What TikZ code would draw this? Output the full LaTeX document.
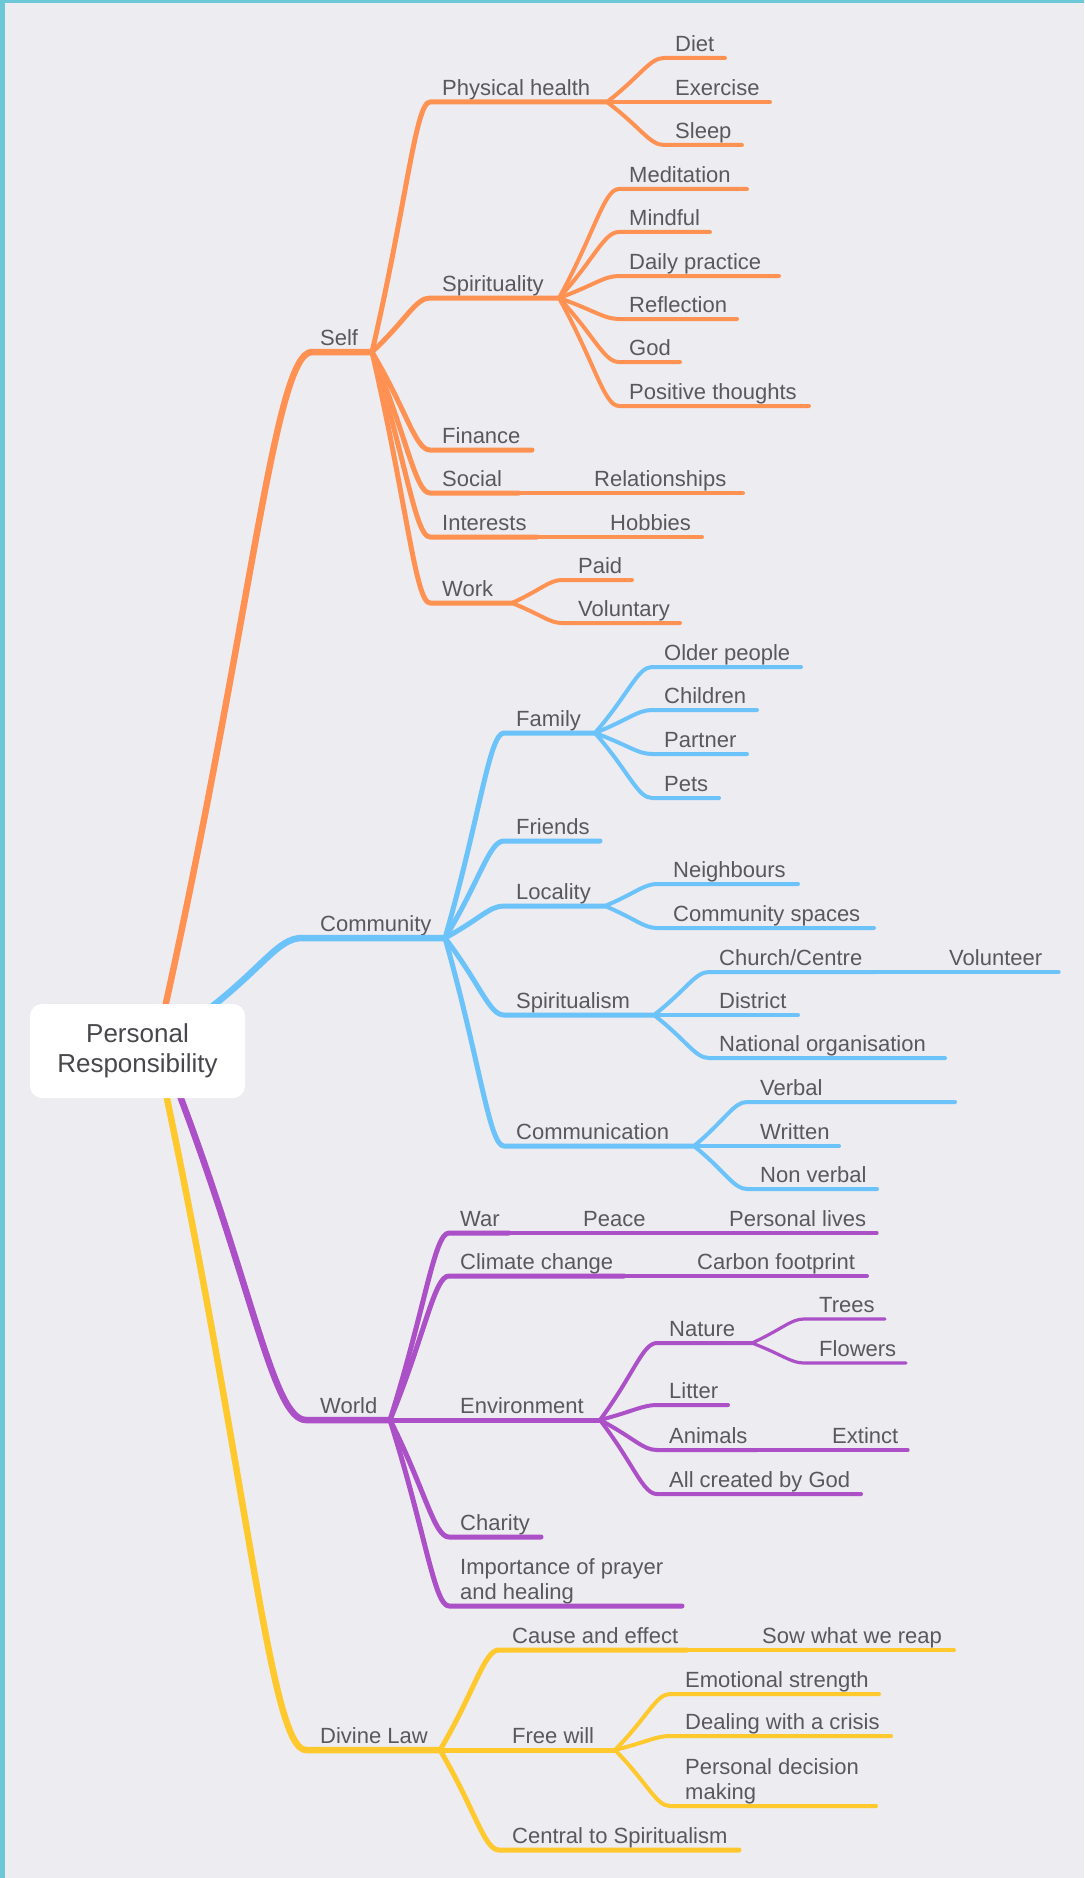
\documentclass[tikz,border=0pt]{standalone}
\usepackage{fontspec}
\setmainfont{Liberation Sans}
\usetikzlibrary{calc}
\definecolor{bgc}{RGB}{236,236,241}
\definecolor{frm}{RGB}{108,200,215}
\definecolor{txt}{RGB}{88,88,94}
\definecolor{roottxt}{RGB}{72,72,76}
\definecolor{orng}{RGB}{255,146,82}
\definecolor{blu}{RGB}{108,195,250}
\definecolor{prp}{RGB}{172,80,200}
\definecolor{ylw}{RGB}{255,200,45}
\newcommand\mmitem[6]{%
  \coordinate (#1-s) at (#2,#3);
  \coordinate (#1-e) at (#5,#3);
  \node[lbl] (#1) at (#4,#3-6.5) {#6};}
\tikzset{
  lbl/.style={anchor=base west, inner sep=0pt, text=txt, font=\fontsize{22}{25}\selectfont},
  rootbox/.style={fill=white, rounded corners=12pt, minimum width=215pt, minimum height=94pt,
    align=center, inner sep=0pt, text=roottxt, font=\fontsize{26}{30}\selectfont},
  curvy/.style={to path={let \p1=(\tikztostart), \p2=(\tikztotarget) in
    .. controls ({\x1+0.6*(\x2-\x1)},{\y1+0.6*(\y2-\y1)}) and ({\x2-0.25*(\x2-\x1)},{\y2}) .. (\tikztotarget)}},
  wA/.style={line width=6.5pt},
  wB/.style={line width=5pt},
  wC/.style={line width=4pt},
  wD/.style={line width=3.2pt},
}
\begin{document}
\begin{tikzpicture}[x=1pt,y=-1pt,line cap=round,line join=round]
\useasboundingbox (0,0) rectangle (1084,1878);
\fill[bgc] (0,0) rectangle (1084,1878);
\fill[frm] (0,0) rectangle (5,1878);
\fill[frm] (0,0) rectangle (1084,3);

% start points of the main branches (inside the central topic)
\coordinate (rs) at (160,1030);
\coordinate (rc) at (205,1012);
\coordinate (rw) at (172,1075);
\coordinate (rd) at (162,1075);

% ---------- Self ----------
\mmitem{self}{312}{352}{320}{372}{Self}
\mmitem{phys}{430}{102}{442}{607}{Physical health}
\mmitem{diet}{664}{58}{675}{725}{Diet}
\mmitem{exer}{607}{102}{675}{770}{Exercise}
\mmitem{sleep}{664}{145}{675}{742}{Sleep}
\mmitem{spir}{430}{298}{442}{559}{Spirituality}
\mmitem{medi}{619}{189}{629}{747}{Meditation}
\mmitem{mind}{619}{232}{629}{710}{Mindful}
\mmitem{daily}{619}{276}{629}{779}{Daily practice}
\mmitem{refl}{619}{319}{629}{737}{Reflection}
\mmitem{god}{619}{362}{629}{680}{God}
\mmitem{posi}{619}{406}{629}{809}{Positive thoughts}
\mmitem{fin}{430}{450}{442}{532}{Finance}
\mmitem{soc}{430}{493}{442}{519}{Social}
\mmitem{rel}{519}{493}{594}{743}{Relationships}
\mmitem{inte}{430}{537}{442}{537}{Interests}
\mmitem{hob}{537}{537}{610}{702}{Hobbies}
\mmitem{work}{430}{603}{442}{512}{Work}
\mmitem{paid}{562}{580}{578}{632}{Paid}
\mmitem{volu}{562}{623}{578}{680}{Voluntary}

\begin{scope}[color=orng]
\draw[wA] (rs) to[curvy] (self-s) -- (self-e);
\draw[wB] (self-e) to[curvy] (phys-s) -- (phys-e);
\draw[wB] (self-e) to[curvy] (spir-s) -- (spir-e);
\draw[wB] (self-e) to[curvy] (fin-s) -- (fin-e);
\draw[wB] (self-e) to[curvy] (soc-s) -- (soc-e);
\draw[wB] (self-e) to[curvy] (inte-s) -- (inte-e);
\draw[wB] (self-e) to[curvy] (work-s) -- (work-e);
\draw[wC] (phys-e) to[curvy] (diet-s) -- (diet-e);
\draw[wC] (exer-s) -- (exer-e);
\draw[wC] (phys-e) to[curvy] (sleep-s) -- (sleep-e);
\draw[wC] (spir-e) to[curvy] (medi-s) -- (medi-e);
\draw[wC] (spir-e) to[curvy] (mind-s) -- (mind-e);
\draw[wC] (spir-e) to[curvy] (daily-s) -- (daily-e);
\draw[wC] (spir-e) to[curvy] (refl-s) -- (refl-e);
\draw[wC] (spir-e) to[curvy] (god-s) -- (god-e);
\draw[wC] (spir-e) to[curvy] (posi-s) -- (posi-e);
\draw[wC] (rel-s) -- (rel-e);
\draw[wC] (hob-s) -- (hob-e);
\draw[wC] (work-e) to[curvy] (paid-s) -- (paid-e);
\draw[wC] (work-e) to[curvy] (volu-s) -- (volu-e);
\end{scope}

% ---------- Community ----------
\mmitem{comm}{302}{938}{320}{445}{Community}
\mmitem{fam}{504}{733}{516}{595}{Family}
\mmitem{old}{652}{667}{664}{801}{Older people}
\mmitem{chil}{652}{710}{664}{757}{Children}
\mmitem{part}{652}{754}{664}{747}{Partner}
\mmitem{pets}{652}{798}{664}{719}{Pets}
\mmitem{frie}{504}{841}{516}{600}{Friends}
\mmitem{loca}{504}{906}{516}{605}{Locality}
\mmitem{neig}{657}{884}{673}{798}{Neighbours}
\mmitem{cosp}{657}{928}{673}{874}{Community spaces}
\mmitem{spis}{504}{1015}{516}{654}{Spiritualism}
\mmitem{chur}{709}{972}{719}{875}{Church/Centre}
\mmitem{volt}{875}{972}{949}{1059}{Volunteer}
\mmitem{dist}{654}{1015}{719}{798}{District}
\mmitem{nati}{709}{1058}{719}{945}{National organisation}
\mmitem{comu}{504}{1146}{516}{694}{Communication}
\mmitem{verb}{747}{1102}{760}{955}{Verbal}
\mmitem{writ}{694}{1146}{760}{839}{Written}
\mmitem{nonv}{747}{1189}{760}{877}{Non verbal}

\begin{scope}[color=blu]
\draw[wA] (rc) to[curvy] (comm-s) -- (comm-e);
\draw[wB] (comm-e) to[curvy] (fam-s) -- (fam-e);
\draw[wB] (comm-e) to[curvy] (frie-s) -- (frie-e);
\draw[wB] (comm-e) to[curvy] (loca-s) -- (loca-e);
\draw[wB] (comm-e) to[curvy] (spis-s) -- (spis-e);
\draw[wB] (comm-e) to[curvy] (comu-s) -- (comu-e);
\draw[wC] (fam-e) to[curvy] (old-s) -- (old-e);
\draw[wC] (fam-e) to[curvy] (chil-s) -- (chil-e);
\draw[wC] (fam-e) to[curvy] (part-s) -- (part-e);
\draw[wC] (fam-e) to[curvy] (pets-s) -- (pets-e);
\draw[wC] (loca-e) to[curvy] (neig-s) -- (neig-e);
\draw[wC] (loca-e) to[curvy] (cosp-s) -- (cosp-e);
\draw[wC] (spis-e) to[curvy] (chur-s) -- (chur-e);
\draw[wD] (volt-s) -- (volt-e);
\draw[wC] (dist-s) -- (dist-e);
\draw[wC] (spis-e) to[curvy] (nati-s) -- (nati-e);
\draw[wC] (comu-e) to[curvy] (verb-s) -- (verb-e);
\draw[wC] (writ-s) -- (writ-e);
\draw[wC] (comu-e) to[curvy] (nonv-s) -- (nonv-e);
\end{scope}

% ---------- World ----------
\mmitem{world}{306}{1420}{320}{390}{World}
\mmitem{war}{449}{1233}{460}{509}{War}
\mmitem{peace}{509}{1233}{583}{655}{Peace}
\mmitem{plive}{655}{1233}{729}{877}{Personal lives}
\mmitem{clim}{449}{1276}{460}{624}{Climate change}
\mmitem{carb}{624}{1276}{697}{867}{Carbon footprint}
\mmitem{envi}{390}{1420}{460}{600}{Environment}
\mmitem{natu}{657}{1343}{669}{752}{Nature}
\mmitem{tree}{804}{1319}{819}{885}{Trees}
\mmitem{flow}{804}{1363}{819}{906}{Flowers}
\mmitem{litt}{657}{1405}{669}{728}{Litter}
\mmitem{anim}{657}{1450}{669}{757}{Animals}
\mmitem{exti}{757}{1450}{832}{908}{Extinct}
\mmitem{allc}{657}{1494}{669}{861}{All created by God}
\mmitem{char}{449}{1537}{460}{541}{Charity}
\mmitem{impo}{449}{1606}{460}{682}{\begin{tabular}[b]{@{}l@{}}Importance of prayer\\and healing\end{tabular}}

\begin{scope}[color=prp]
\draw[wA] (rw) to[curvy] (world-s) -- (world-e);
\draw[wB] (world-e) to[curvy] (war-s) -- (war-e);
\draw[wB] (world-e) to[curvy] (clim-s) -- (clim-e);
\draw[wB] (world-e) to[curvy] (char-s) -- (char-e);
\draw[wB] (world-e) to[curvy] (impo-s) -- (impo-e);
\draw[wB] (envi-s) -- (envi-e);
\draw[wC] (peace-s) -- (peace-e);
\draw[wD] (plive-s) -- (plive-e);
\draw[wC] (carb-s) -- (carb-e);
\draw[wC] (envi-e) to[curvy] (natu-s) -- (natu-e);
\draw[wC] (envi-e) to[curvy] (litt-s) -- (litt-e);
\draw[wC] (envi-e) to[curvy] (anim-s) -- (anim-e);
\draw[wC] (envi-e) to[curvy] (allc-s) -- (allc-e);
\draw[wD] (natu-e) to[curvy] (tree-s) -- (tree-e);
\draw[wD] (natu-e) to[curvy] (flow-s) -- (flow-e);
\draw[wD] (exti-s) -- (exti-e);
\end{scope}

% ---------- Divine Law ----------
\mmitem{divi}{306}{1750}{320}{440}{Divine Law}
\mmitem{caus}{499}{1650}{512}{687}{Cause and effect}
\mmitem{sow}{687}{1650}{762}{954}{Sow what we reap}
\mmitem{free}{440}{1750}{512}{615}{Free will}
\mmitem{emot}{670}{1694}{685}{879}{Emotional strength}
\mmitem{deal}{670}{1736}{685}{891}{Dealing with a crisis}
\mmitem{pdec}{670}{1806}{685}{876}{\begin{tabular}[b]{@{}l@{}}Personal decision\\making\end{tabular}}
\mmitem{cent}{499}{1850}{512}{739}{Central to Spiritualism}

\begin{scope}[color=ylw]
\draw[wA] (rd) to[curvy] (divi-s) -- (divi-e);
\draw[wB] (divi-e) to[curvy] (caus-s) -- (caus-e);
\draw[wC] (sow-s) -- (sow-e);
\draw[wB] (free-s) -- (free-e);
\draw[wB] (divi-e) to[curvy] (cent-s) -- (cent-e);
\draw[wC] (free-e) to[curvy] (emot-s) -- (emot-e);
\draw[wC] (free-e) to[curvy] (deal-s) -- (deal-e);
\draw[wC] (free-e) to[curvy] (pdec-s) -- (pdec-e);
\end{scope}

% ---------- central topic ----------
\node[rootbox] (root) at (137.5,1051) {Personal\\Responsibility};
\end{tikzpicture}
\end{document}
